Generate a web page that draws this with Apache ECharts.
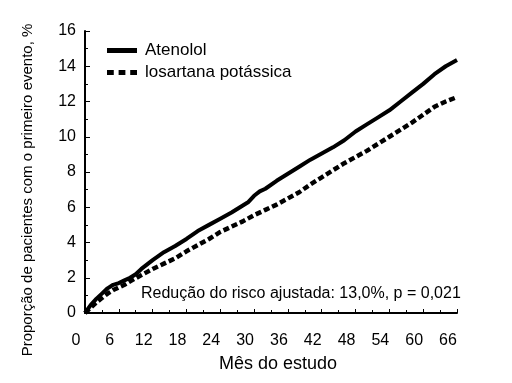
<!DOCTYPE html>
<html>
<head>
<meta charset="utf-8">
<script src="https://cdn.jsdelivr.net/npm/echarts@6/dist/echarts.min.js"></script>
<style>
html,body{margin:0;padding:0;background:#fff;}
#chart{width:512px;height:383px;}
</style>
</head>
<body>
<div id="chart"></div>
<script>
// Months of study
var monthsAtenolol = [0,1,2,3,4,5,6,7,8,9,10,12,14,16,18,20,22,24,26,28,29,30,31,32,34,36,38,40,42,44,46,48,50,52,54,56,58,60,62,64,66];
var atenolol       = [0,0.45,0.8,1.1,1.4,1.6,1.7,1.85,2.0,2.2,2.5,3.0,3.45,3.8,4.2,4.65,5.0,5.35,5.7,6.1,6.3,6.65,6.9,7.05,7.5,7.9,8.3,8.7,9.05,9.4,9.8,10.3,10.7,11.1,11.5,12.0,12.5,13.0,13.55,14.0,14.35];
var monthsLosartan = [0,1,2,3,4,5,6,7,8,10,12,14,16,18,20,22,24,26,28,30,32,34,36,38,40,42,44,46,48,50,52,54,56,58,60,62,64,66];
var losartan       = [0,0.3,0.6,0.85,1.1,1.3,1.45,1.6,1.8,2.15,2.5,2.8,3.1,3.5,3.85,4.2,4.6,4.9,5.2,5.55,5.85,6.15,6.5,6.85,7.3,7.7,8.1,8.5,8.85,9.2,9.6,10.0,10.4,10.8,11.25,11.7,12.0,12.25];
var seriesNames = ['Atenolol', 'losartana potássica'];
var xTitle = 'Mês do estudo';
var yTitle = 'Proporção de pacientes com o primeiro evento, %';
var note = 'Redução do risco ajustada: 13,0%, p = 0,021';

function pairs(xs, ys){ return xs.map(function(x,i){ return [x, ys[i]]; }); }

var font = 'Liberation Sans, Arial, sans-serif';
var chart = echarts.init(document.getElementById('chart'));
chart.setOption({
  animation: false,
  backgroundColor: '#fff',
  grid: {left: 85, right: 55, top: 31, bottom: 70},
  legend: {
    orient: 'vertical', left: 102, top: 37, itemGap: 5,
    itemWidth: 30, itemHeight: 5,
    textStyle: {fontFamily: font, fontSize: 17, color: '#000', padding: [0,0,0,3]},
    data: [
      {name: seriesNames[0], icon: 'rect'},
      {name: seriesNames[1], icon: 'path://M0,0h7v5h-7zM12,0h7v5h-7zM24,0h7v5h-7z'}
    ]
  },
  xAxis: {
    type: 'value', min: 0, max: 66, interval: 6,
    axisLine: {lineStyle: {color: '#000', width: 2}},
    axisTick: {inside: true, length: 4, lineStyle: {color: '#000', width: 1}},
    minorTick: {show: true, splitNumber: 2, length: 3, lineStyle: {color: '#000', width: 1}},
    splitLine: {show: false},
    axisLabel: {color: '#000', fontFamily: font, fontSize: 16, margin: 20, padding: [0,18,0,0]}
  },
  yAxis: {
    type: 'value', min: 0, max: 16, interval: 2,
    axisLine: {show: true, lineStyle: {color: '#000', width: 2}},
    axisTick: {show: true, inside: true, length: 5, lineStyle: {color: '#000', width: 1}},
    minorTick: {show: true, splitNumber: 2, length: 3, lineStyle: {color: '#000', width: 1}},
    splitLine: {show: false},
    axisLabel: {color: '#000', fontFamily: font, fontSize: 16, margin: 9}
  },
  graphic: [
    {type: 'text', x: 28, y: 190, rotation: Math.PI/2,
     style: {text: yTitle, fill: '#000', font: '15px ' + font, textAlign: 'center', textVerticalAlign: 'middle'}},
    {type: 'text', x: 278, y: 364,
     style: {text: xTitle, fill: '#000', font: '18px ' + font, textAlign: 'center', textVerticalAlign: 'middle'}},
    {type: 'text', x: 141, y: 294,
     style: {text: note, fill: '#000', font: '16px ' + font, textAlign: 'left', textVerticalAlign: 'middle'}}
  ],
  series: [
    {name: seriesNames[0], type: 'line', data: pairs(monthsAtenolol, atenolol), showSymbol: false,
     lineStyle: {color: '#000', width: 4}, itemStyle: {color: '#000'}},
    {name: seriesNames[1], type: 'line', data: pairs(monthsLosartan, losartan), showSymbol: false,
     lineStyle: {color: '#000', width: 4.5, type: [6,3]}, itemStyle: {color: '#000'}}
  ]
});
</script>
</body>
</html>
